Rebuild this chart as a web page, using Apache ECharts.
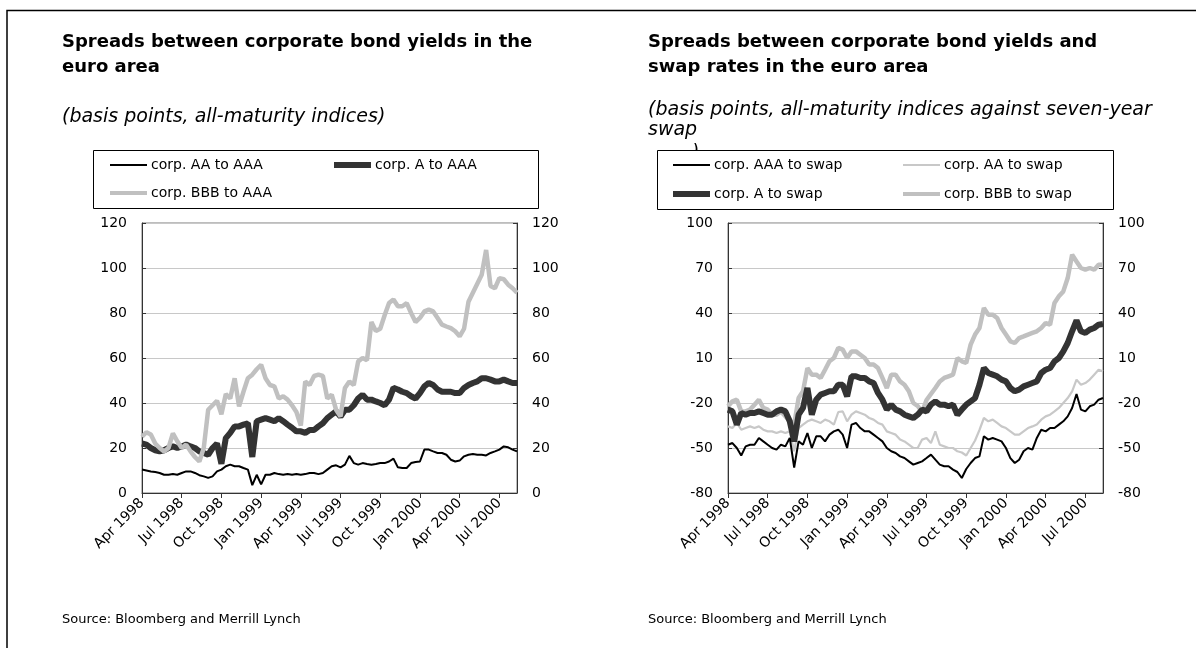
<!DOCTYPE html>
<html><head><meta charset="utf-8">
<script src="https://cdn.jsdelivr.net/npm/echarts@6/dist/echarts.min.js"></script>
<style>html,body{margin:0;padding:0;background:#fff}#c{width:1196px;height:648px}</style>
</head><body><div id="c"></div><script>
// ---- categories: 3 observations per month, Apr 1998 .. 11 Aug 2000
const monthNames = ['Jan','Feb','Mar','Apr','May','Jun','Jul','Aug','Sep','Oct','Nov','Dec'];
const categories = [];
for (let y = 1998; y <= 2000; y++) {
  for (let m = 0; m < 12; m++) {
    if (y === 1998 && m < 3) continue;
    for (const d of [1, 11, 21]) {
      if (y === 2000 && (m > 7 || (m === 7 && d > 11))) continue;
      categories.push(d + ' ' + monthNames[m] + ' ' + y);
    }
  }
}
const quarterLabels = ['Apr 1998','Jul 1998','Oct 1998','Jan 1999','Apr 1999','Jul 1999','Oct 1999','Jan 2000','Apr 2000','Jul 2000'];

// ---- left chart: spreads between corporate bond yields (bp)
const aaToAAA = [10.4,10,9.6,9.3,8.9,8.1,8.1,8.4,8.1,8.9, 9.6,9.6,8.9,7.9,7.4,6.7,7.4,9.6,10.4,11.9, 12.6,11.9,11.9,11.1,10.4,3.5,8.1,3.8,8.1,8.1, 8.9,8.4,8.1,8.4,8.1,8.4,8.1,8.4,8.9,8.9, 8.4,8.9,10.4,11.9,12.3,11.4,12.6,16.5,13.3,12.6, 13.3,12.9,12.6,12.9,13.3,13.3,14,15.3,11.4,11.1, 11.1,13.3,13.8,14,19.3,19.3,18.5,17.8,17.8,17, 14.8,14,14.4,16.3,17,17.3,17,17,16.7,17.8, 18.5,19.3,20.7,20.3,19.3,18.5];
const aToAAA = [22,21.5,20,19,18.5,19,20,20.7,20,20.7, 21.5,20.7,20,18.5,17.8,17,20,22,13,24.4, 26.7,29.6,29.6,30.4,31,16,31.9,32.6,33.3,32.6, 31.9,33.3,31.9,30.4,29,27.4,27.4,26.7,28,28, 29.6,31,33.3,34.8,36.3,34,37,37,39,42, 43.7,41.5,41.5,40.7,40,39,41.5,46.7,46,45, 44.4,43,42,44.4,47.4,48.9,48,46,45,45, 45,44.4,44.4,46.7,48,48.9,49.6,51,51,50.4, 49.6,49.6,50.4,49.6,48.9,48.9];
const bbbToAAA = [25,27,26,22,20,18.5,20,26.5,23,20, 21.5,18.5,16,14,20,37,39,41,35,44, 42,51,38.5,45,51,52.6,55,57,51,48, 47.4,42,43,41.5,39,36,30,49.6,48,52, 52.6,52,42,43.7,37,34,46.7,49.6,48,58.5, 60,59,76,72,73,79,84.4,86,83,83, 84.4,80,76,77.8,80.7,81.5,80.7,77.8,74.8,74, 73.3,71.9,69.6,73,85,89,93,97,108,92, 91,95.5,95,92.6,91,89];

// ---- right chart: spreads against seven-year swap (bp)
const aaaToSwap = [-47.8,-46.7,-50,-55,-48.9,-47.8,-47.8,-43.3,-45.6,-47.8, -50,-51.1,-47.8,-48.9,-43.3,-63,-45.6,-47.8,-40,-50, -42.2,-42.2,-45.6,-41.1,-38.9,-37.8,-41.1,-50,-34.4,-33.3, -36.7,-38.9,-38.9,-41.1,-43.3,-45.6,-50,-52.2,-53.3,-55.6, -56.7,-58.9,-61.1,-60,-58.9,-56.7,-54.4,-57.8,-61.1,-62.2, -62.2,-64.4,-66,-70,-64,-60,-56.7,-55.6,-42.2,-44.4, -43.3,-44.4,-45.6,-50,-56.7,-60,-57.8,-52.2,-50,-51.1, -43.3,-37.8,-38.9,-36.7,-36.7,-34.4,-32.2,-28.9,-23.3,-14, -24.4,-25.6,-22.2,-21.1,-17.8,-16.7];
const aaToSwap = [-35.6,-36.7,-33.3,-37.8,-36.7,-35.6,-36.7,-35.6,-37.8,-38.9, -38.9,-40,-38.9,-40,-38.9,-52.2,-36.7,-34.4,-32.2,-31.1, -32.2,-33.3,-31.1,-32.2,-34.4,-26,-25.6,-32.2,-27.8,-25.6, -26.7,-27.8,-30,-31.1,-33.3,-34.4,-38.9,-40,-41.1,-44.4, -45.6,-47.8,-50,-50,-44.4,-43.3,-46.7,-38.9,-47.8,-48.9, -50,-50,-52.2,-53,-55,-50,-45,-38,-30,-32.2, -31.1,-33.3,-35.6,-36.7,-38.9,-41.1,-41.1,-38.9,-36.7,-35.6, -34.4,-31.1,-28.9,-27.8,-25.6,-23.3,-20,-16.7,-12.2,-4.4, -7.8,-6.7,-4.4,-1.1,2.2,1.1];
const aToSwap = [-24.4,-25.6,-34.4,-26.7,-27.8,-26.7,-26.7,-25.6,-26.7,-27.8, -27.8,-25.6,-24.4,-25.6,-32.2,-45.6,-27.8,-23.3,-10,-27.8, -17.8,-14.4,-13.3,-12.2,-12.2,-7.8,-7.8,-15.6,-2.2,-2.2, -3.3,-3.3,-5.6,-6.7,-13.3,-17.8,-24.4,-21.1,-24.4,-25.6, -27.8,-28.9,-30,-27.8,-24.4,-25.6,-21.1,-18.9,-21.1,-21.1, -22.2,-21.1,-27.8,-24.4,-21.1,-18.9,-16.7,-7.8,3.3,0, -1.1,-2.2,-4.4,-5.6,-10,-12.2,-11.1,-8.9,-7.8,-6.7, -5.6,0,2.2,3.3,7.8,10,14.4,20,27.8,35, 27.8,26.7,28.9,30,32.2,32.7];
const bbbToSwap = [-22.2,-18.9,-17.8,-25.6,-25.6,-24.4,-21.1,-17.8,-23.3,-24.4, -27.8,-27.8,-25.6,-28.9,-32.2,-34.4,-16.7,-12.2,3.3,-1.1, -1.1,-3.3,2.2,7.8,10,16.7,15.6,10,14.4,14.4, 12.2,10,5.6,5.6,3.3,-3.3,-10,-1.1,-1.1,-5.6, -7.8,-12.2,-20,-22,-26,-18,-14,-10,-5.6,-3.3, -2.2,-1.1,10,7.8,6.7,18.9,25.6,30,43.3,38.9, 38.9,36.7,30,25.6,21.1,20,23.3,24.4,25.6,26.7, 27.8,30,33.3,32.2,46.7,51.1,54.4,63.3,78.9,74.4, 70,68.9,70,68.9,72.2,72.2];

const FONT = 'DejaVu Sans';
const BLACK = '#000000', DARK = '#333333', LIGHT = '#c0c0c0', LIGHTER = '#c8c8c8';

function xAxis(gridIndex) {
  return {
    type: 'category', gridIndex, data: categories, boundaryGap: false,
    axisLine: { onZero: false, lineStyle: { color: '#333', width: 1 } },
    axisTick: { show: true, interval: 8, length: 5, lineStyle: { color: '#333' } },
    axisLabel: {
      interval: 8, rotate: 45, margin: 8, fontSize: 14, fontFamily: FONT, color: '#000',
      formatter: (v, i) => quarterLabels[Math.round(i / 9)] || ''
    },
    splitLine: { show: false }
  };
}
function yAxis(gridIndex, position, min, max, interval, grid) {
  return {
    type: 'value', gridIndex, position, min, max, interval,
    axisLine: { show: true, onZero: false, lineStyle: { color: '#333', width: 1 } },
    axisTick: { show: true, inside: true, length: 4, lineStyle: { color: '#333' } },
    axisLabel: { fontSize: 14, fontFamily: FONT, color: '#000', margin: 15 },
    splitLine: { show: grid, lineStyle: { color: '#c8c8c8', width: 1 } }
  };
}
function line(name, data, xi, yi, color, width, z) {
  return {
    name, type: 'line', data, xAxisIndex: xi, yAxisIndex: yi,
    symbol: 'none', showSymbol: false, animation: false, z,
    lineStyle: { color, width }, itemStyle: { color },
    emphasis: { disabled: true }
  };
}
// one legend per entry so that columns line up as in the original
function legend(name, left, centerY, thickness) {
  return {
    data: [{ name, icon: 'rect' }], left, top: centerY - 8, height: 16, padding: 0,
    itemWidth: 37, itemHeight: thickness, itemGap: 0, selectedMode: false,
    textStyle: { fontSize: 14, fontFamily: FONT, color: '#000', lineHeight: 16, padding: [0, 0, 0, -1] }
  };
}
function txt(text, x, y, size, opts) {
  return {
    type: 'text', x, y, silent: true,
    style: Object.assign({
      text, fontSize: size, fontFamily: FONT, fill: '#000',
      textVerticalAlign: 'middle', verticalAlign: 'middle', textAlign: 'left', align: 'left'
    }, opts || {})
  };
}

const chart = echarts.init(document.getElementById('c'), null, { renderer: 'canvas' });
chart.setOption({
  animation: false,
  backgroundColor: '#fff',
  grid: [
    { left: 142, top: 223, width: 375, height: 270, show: true, borderColor: '#7a7a7a', borderWidth: 1, containLabel: false },
    { left: 728, top: 223, width: 375, height: 270, show: true, borderColor: '#7a7a7a', borderWidth: 1, containLabel: false }
  ],
  xAxis: [xAxis(0), xAxis(1)],
  yAxis: [
    yAxis(0, 'left', 0, 120, 20, true),
    yAxis(0, 'right', 0, 120, 20, false),
    yAxis(1, 'left', -80, 100, 30, true),
    yAxis(1, 'right', -80, 100, 30, false)
  ],
  legend: [
    legend('corp. AA to AAA', 110, 165, 2),
    legend('corp. A to AAA', 334, 165, 6),
    legend('corp. BBB to AAA', 110, 193, 4),
    legend('corp. AAA to swap', 673, 165, 2),
    legend('corp. AA to swap', 903, 165, 2),
    legend('corp. A to swap', 673, 194, 6),
    legend('corp. BBB to swap', 903, 194, 4)
  ],
  series: [
    line('corp. AA to AAA', aaToAAA, 0, 0, BLACK, 2, 4),
    line('corp. A to AAA', aToAAA, 0, 0, DARK, 6, 2),
    line('corp. BBB to AAA', bbbToAAA, 0, 0, LIGHT, 4.5, 3),
    line('corp. AA to swap', aaToSwap, 1, 2, LIGHTER, 2.2, 2),
    line('corp. BBB to swap', bbbToSwap, 1, 2, LIGHT, 4.5, 2),
    line('corp. A to swap', aToSwap, 1, 2, DARK, 6, 3),
    line('corp. AAA to swap', aaaToSwap, 1, 2, BLACK, 2, 4)
  ],
  graphic: { elements: [
    { type: 'polyline', silent: true, shape: { points: [[7, 648], [7, 10.5], [1196, 10.5]] }, style: { stroke: '#000', lineWidth: 1.5, fill: null } },
    txt('Spreads between corporate bond yields in the', 62, 42, 18, { fontWeight: 'bold' }),
    txt('euro area', 62, 67, 18, { fontWeight: 'bold' }),
    txt('(basis points, all-maturity indices)', 62, 117, 19, { fontStyle: 'italic' }),
    txt('Spreads between corporate bond yields and', 648, 42, 18, { fontWeight: 'bold' }),
    txt('swap rates in the euro area', 648, 67, 18, { fontWeight: 'bold' }),
    txt('(basis points, all-maturity indices against seven-year', 648, 110, 19, { fontStyle: 'italic' }),
    txt('swap', 648, 130, 19, { fontStyle: 'italic' }),
    txt(')', 692, 153, 19, { fontStyle: 'italic' }),
    { type: 'rect', silent: true, shape: { x: 93.5, y: 150.5, width: 445, height: 58 }, style: { fill: '#fff', stroke: '#000', lineWidth: 1 } },
    { type: 'rect', silent: true, shape: { x: 657.5, y: 150.5, width: 456, height: 59 }, style: { fill: '#fff', stroke: '#000', lineWidth: 1 } },
    txt('Source: Bloomberg and Merrill Lynch', 62, 620, 13),
    txt('Source: Bloomberg and Merrill Lynch', 648, 620, 13)
  ] }
});
</script></body></html>
